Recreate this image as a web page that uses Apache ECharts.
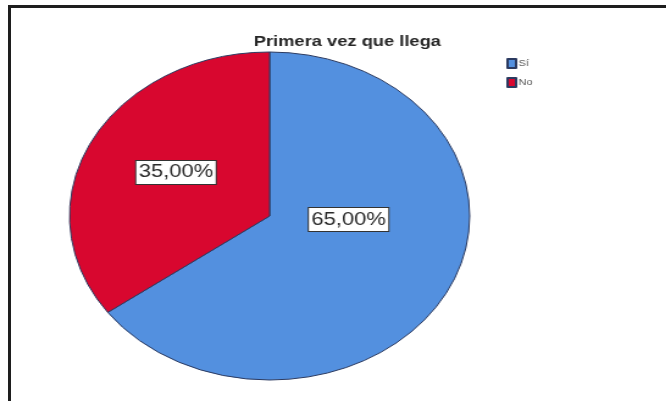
<!DOCTYPE html>
<html>
<head>
<meta charset="utf-8">
<script src="https://cdn.jsdelivr.net/npm/echarts@6/dist/echarts.min.js"></script>
<style>
  html, body { margin: 0; padding: 0; background: #fff; }
  #frame { position: absolute; left: 8px; top: 5px; width: 660px; height: 400px;
           border-left: 3px solid #1e1e1e; border-top: 3px solid #1e1e1e; box-sizing: border-box; }
  #chart { position: absolute; left: 0; top: 0; width: 546px; height: 401px;
           transform: scaleX(1.22); transform-origin: 0 0; }
</style>
</head>
<body>
<div id="frame"></div>
<div id="chart"></div>
<script>
const title = 'Primera vez que llega';
const categories = ['Sí', 'No'];
const values = [65, 35];
const colors = ['#5390df', '#d8072f'];

const chart = echarts.init(document.getElementById('chart'), null, { renderer: 'canvas' });
const labelShift = [[-11, -35], [-1, -5]];

chart.setOption({
  animation: false,
  title: {
    text: title,
    left: 203,
    top: 29,
    textStyle: { fontFamily: 'Liberation Sans, Arial, sans-serif', fontSize: 15, fontWeight: 'bold', color: '#262626' }
  },
  legend: {
    orient: 'vertical',
    left: 410,
    top: 53,
    itemWidth: 7,
    itemHeight: 9,
    itemGap: 8,
    icon: 'rect',
    selectedMode: false,
    data: categories,
    textStyle: { fontFamily: 'Liberation Sans, Arial, sans-serif', fontSize: 9, color: '#555', padding: [0, 0, 0, -3] }
  },
  series: [{
    type: 'pie',
    center: [221, 216],
    radius: [0, 164],
    startAngle: 90,
    clockwise: true,
    silent: true,
    emphasis: { disabled: true },
    itemStyle: { borderColor: '#2b3a60', borderWidth: 1 },
    label: {
      show: true,
      position: 'inside',
      formatter: p => p.value.toFixed(2).replace('.', ',') + '%',
      fontFamily: 'Liberation Sans, Arial, sans-serif',
      fontSize: 18,
      color: '#2a2a2a',
      backgroundColor: '#fff',
      borderColor: '#333',
      borderWidth: 1,
      padding: [3, 2, 2, 2]
    },
    labelLine: { show: false },
    labelLayout: function (params) {
      const s = labelShift[params.dataIndex];
      return { dx: s[0], dy: s[1] };
    },
    data: categories.map((c, i) => ({ name: c, value: values[i], itemStyle: { color: colors[i] } }))
  }]
});
</script>
</body>
</html>
